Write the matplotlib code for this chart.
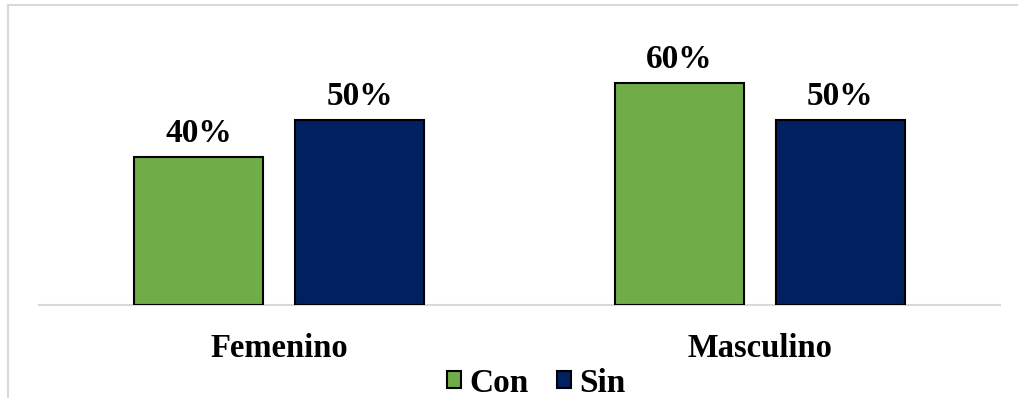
import matplotlib.pyplot as plt
import numpy as np
from matplotlib.patches import Rectangle

categories = ['Femenino', 'Masculino']
series = ['Con', 'Sin']
con_values = [0.40, 0.60]
sin_values = [0.50, 0.50]
colors = ['#70AD47', '#002060']

plt.rcParams['font.family'] = ['Liberation Serif', 'DejaVu Serif']
plt.rcParams['font.weight'] = 'bold'

W, H = 1018, 398
fig = plt.figure(figsize=(W / 100, H / 100), dpi=100)

# chart frame (runs off the right and bottom edges)
fig.patches.append(Rectangle((8 / W, -0.05), 1.2, 1 - 5 / H + 0.05,
                             transform=fig.transFigure, fill=False,
                             edgecolor='#D9D9D9', linewidth=1.5))

ax = fig.add_axes([39 / W, (H - 305) / H, (1000 - 39) / W, 296 / H])

x = np.arange(len(categories))
width = 0.268
offset = 0.1675
for vals, off, c, name in [(con_values, -offset, colors[0], series[0]),
                           (sin_values, offset, colors[1], series[1])]:
    bars = ax.bar(x + off, vals, width, color=c, edgecolor='black',
                  linewidth=1.5, label=name, zorder=3)
    for b, v in zip(bars, vals):
        ax.text(b.get_x() + b.get_width() / 2, v + 0.022, f'{v:.0%}',
                ha='center', va='bottom', fontsize=24, fontweight='bold')

ax.set_xlim(-0.5, 1.5)
ax.set_ylim(0, 0.8)
ax.set_yticks([])
ax.set_xticks(x)
ax.set_xticklabels(categories, fontsize=23.5, fontweight='bold')
ax.tick_params(axis='x', length=0, pad=20)
for s in ['top', 'right', 'left']:
    ax.spines[s].set_visible(False)
ax.spines['bottom'].set_color('#D9D9D9')
ax.spines['bottom'].set_linewidth(1.5)
ax.spines['bottom'].set_zorder(1)

ax.legend(loc='center', bbox_to_anchor=(536 / W, 15 / H), bbox_transform=fig.transFigure,
          ncol=2, frameon=False, fontsize=24, handlelength=0.42, handleheight=0.42,
          handletextpad=0.25, columnspacing=0.85, borderaxespad=0, borderpad=0)

fig.savefig('out.png', dpi=100)
